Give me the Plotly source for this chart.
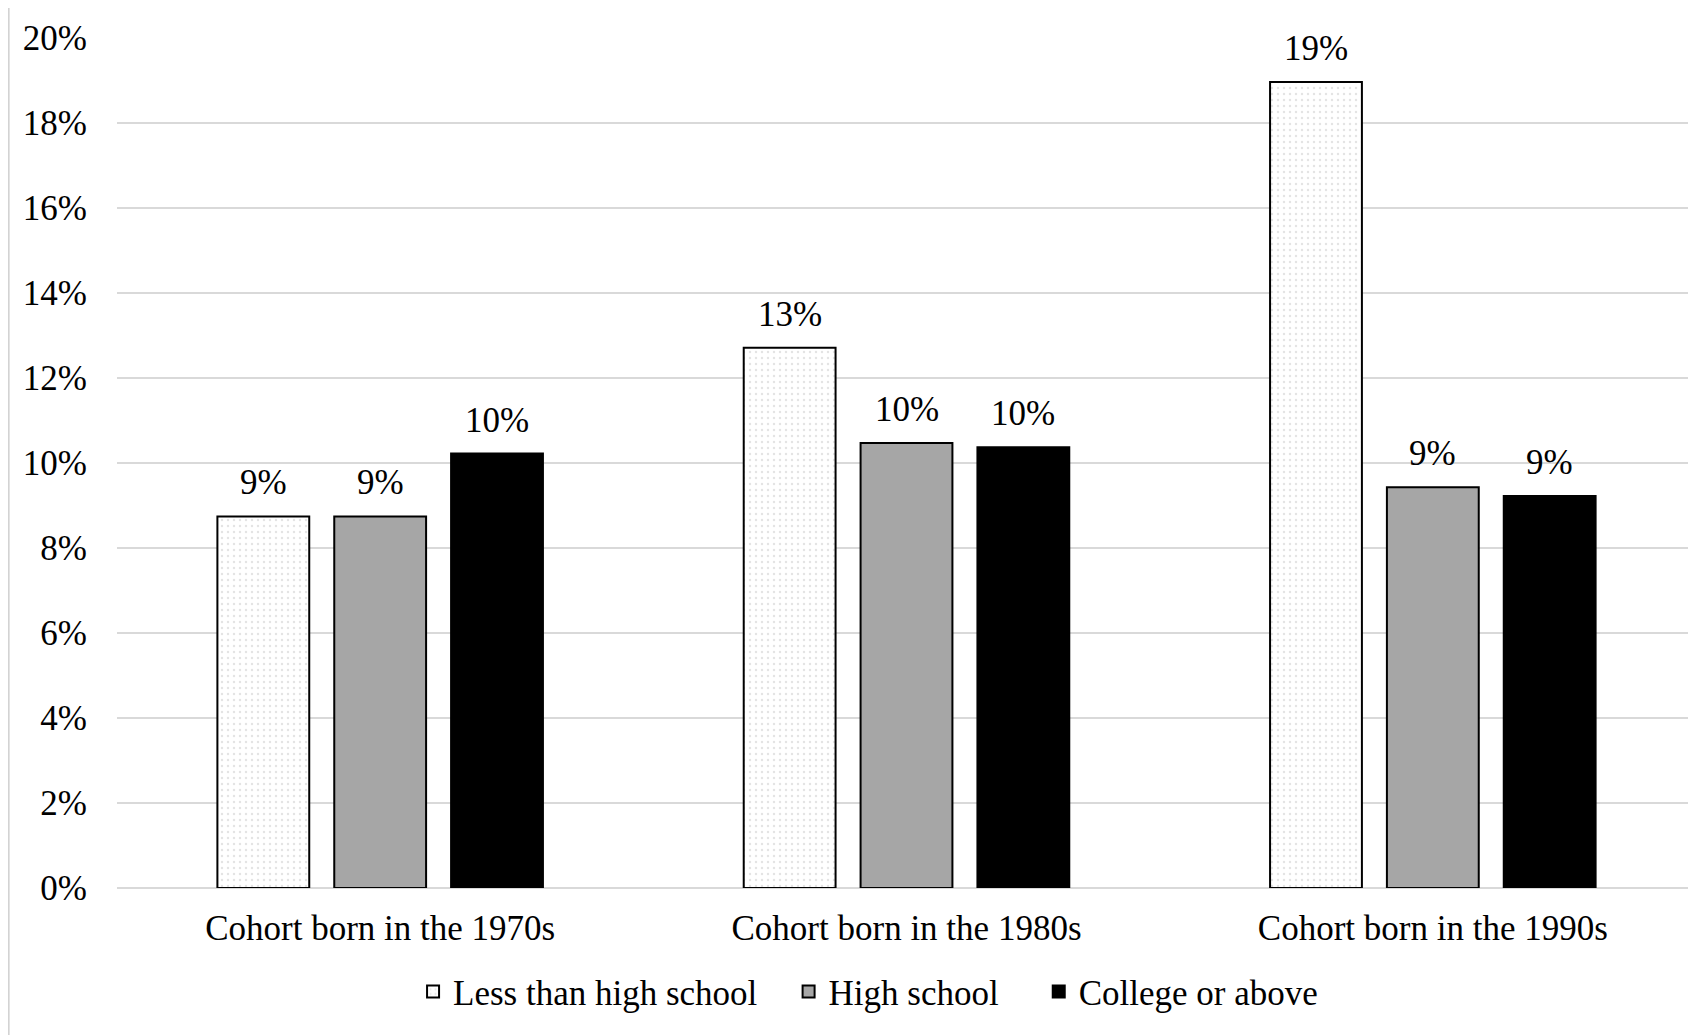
import plotly.graph_objects as go

categories = ["Cohort born in the 1970s", "Cohort born in the 1980s", "Cohort born in the 1990s"]
series_names = ["Less than high school", "High school", "College or above"]
less_than_hs = [8.74, 12.71, 18.96]
high_school = [8.74, 10.47, 9.43]
college = [10.22, 10.37, 9.22]
less_labels = ["9%", "13%", "19%"]
hs_labels = ["9%", "10%", "9%"]
college_labels = ["10%", "10%", "9%"]
y_ticks = [0, 2, 4, 6, 8, 10, 12, 14, 16, 18, 20]

FONT = "Liberation Serif"
FS = 35

# layout constants (page body has an 8px default margin)
W, H = 1688, 1027
ML, MR, MT, MB = 109, 0, 29, 147
BARGAP, GROUPGAP = 0.334, 0.214
plot_w = W - ML - MR
slot_px = plot_w / len(categories) * (1 - BARGAP) / 3

fig = go.Figure()
fig.add_trace(go.Bar(
    name=series_names[0] + "\u00a0" * 3, x=categories, y=less_than_hs,
    marker=dict(color="white", line=dict(color="black", width=2),
                pattern=dict(shape=".", fgcolor="#c8c8c8", bgcolor="white", size=6, solidity=0.12)),
))
fig.add_trace(go.Bar(
    name=series_names[1] + "\u00a0" * 4, x=categories, y=high_school,
    marker=dict(color="#a6a6a6", line=dict(color="black", width=2)),
))
fig.add_trace(go.Bar(
    name=series_names[2], x=categories, y=college,
    marker=dict(color="black", line=dict(color="black", width=2)),
))

annotations = []
for i, (vals, labs) in enumerate([(less_than_hs, less_labels), (high_school, hs_labels), (college, college_labels)]):
    for c, v, t in zip(categories, vals, labs):
        annotations.append(dict(x=c, y=v, xref="x", yref="y", text=t, showarrow=False,
                                xshift=(i - 1) * slot_px, yshift=12, yanchor="bottom",
                                font=dict(family=FONT, size=FS, color="black")))

fig.update_layout(
    width=W, height=H,
    margin=dict(l=ML, r=MR, t=MT, b=MB, autoexpand=False),
    paper_bgcolor="white", plot_bgcolor="white",
    barmode="group", bargap=BARGAP, bargroupgap=GROUPGAP,
    font=dict(family=FONT, size=FS, color="black"),
    legend=dict(orientation="h", x=0.1875, xanchor="left", y=-0.122, yanchor="middle",
                font=dict(family=FONT, size=FS, color="black"), traceorder="normal"),
    xaxis=dict(showgrid=False, showline=False, ticks="outside", ticklen=9,
               tickcolor="rgba(0,0,0,0)", tickfont=dict(family=FONT, size=FS, color="black")),
    yaxis=dict(range=[0, 20.02], tickvals=y_ticks, ticktext=[f"{v}%" for v in y_ticks],
               showgrid=True, gridcolor="#d9d9d9", gridwidth=2,
               zeroline=True, zerolinecolor="#d9d9d9", zerolinewidth=2,
               showline=False, ticks="outside", ticklen=22, tickcolor="rgba(0,0,0,0)",
               tickfont=dict(family=FONT, size=FS, color="black")),
    annotations=annotations,
    shapes=[dict(type="line", xref="paper", yref="paper", x0=-0.0685, x1=-0.0685, y0=-0.3, y1=1.1,
                 line=dict(color="#cfcfcf", width=1.5))],
)

fig.write_html("out.html")
